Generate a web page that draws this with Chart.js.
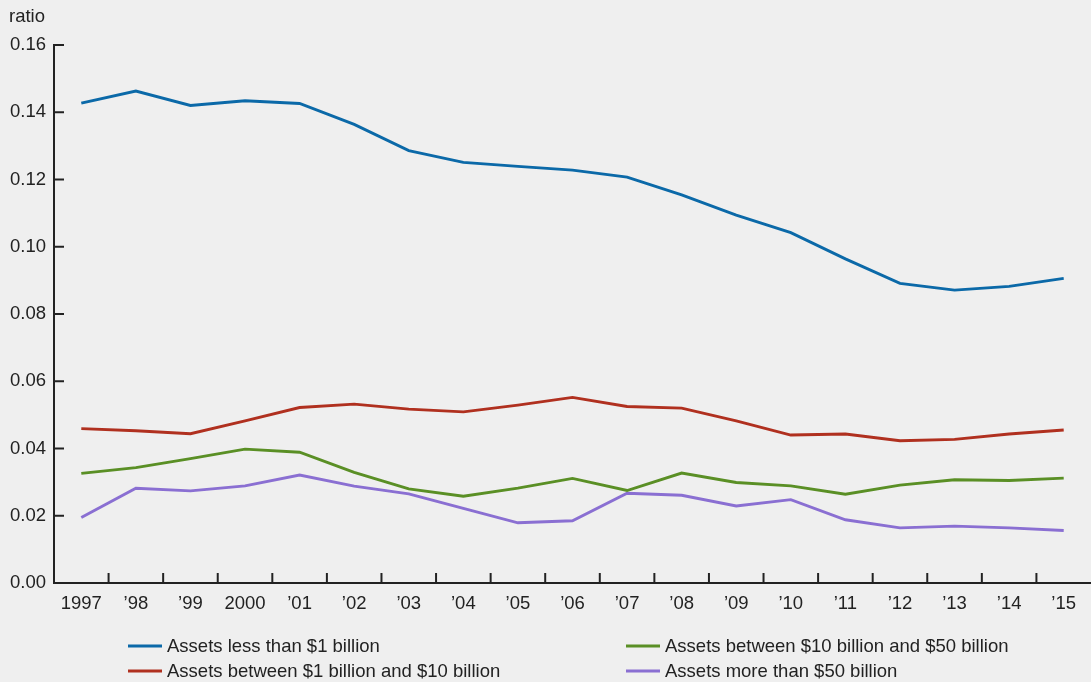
<!DOCTYPE html>
<html>
<head>
<meta charset="utf-8">
<title>Ratio by bank asset size</title>
<script src="https://cdn.jsdelivr.net/npm/chart.js@4/dist/chart.umd.min.js"></script>
<style>
    html, body { margin: 0; padding: 0; background: #efefef; overflow: hidden; }
    #wrap { width: 1091px; height: 682px; position: relative; }
</style>
</head>
<body>
<div id="wrap"><canvas id="chart"></canvas></div>
<script>
// Data
const years = ['1997', '’98', '’99', '2000', '’01', '’02', '’03', '’04', '’05', '’06',
    '’07', '’08', '’09', '’10', '’11', '’12', '’13', '’14', '’15'];

const under1b = [0.1427, 0.1463, 0.1420, 0.1434, 0.1426, 0.1364, 0.1286, 0.1251, 0.1239, 0.1228,
    0.1207, 0.1154, 0.1094, 0.1042, 0.0964, 0.0891, 0.0871, 0.0882, 0.0906];
const from1to10b = [0.0459, 0.0453, 0.0444, 0.0482, 0.0522, 0.0532, 0.0517, 0.0509, 0.0529, 0.0552,
    0.0525, 0.0520, 0.0482, 0.0440, 0.0443, 0.0423, 0.0427, 0.0443, 0.0455];
const from10to50b = [0.0326, 0.0343, 0.0370, 0.0398, 0.0389, 0.0329, 0.0280, 0.0258, 0.0282, 0.0311,
    0.0275, 0.0327, 0.0299, 0.0289, 0.0264, 0.0291, 0.0307, 0.0305, 0.0312];
const over50b = [0.0195, 0.0282, 0.0274, 0.0289, 0.0321, 0.0288, 0.0265, 0.0222, 0.0179, 0.0185,
    0.0267, 0.0261, 0.0229, 0.0248, 0.0188, 0.0164, 0.0169, 0.0164, 0.0156];

const seriesLabels = [
    'Assets less than $1 billion',
    'Assets between $1 billion and $10 billion',
    'Assets between $10 billion and $50 billion',
    'Assets more than $50 billion'
];
const colors = ['#0b69a8', '#b0301f', '#5a8f25', '#8a6fd2'];

const FONT = '"Liberation Sans", Arial, Helvetica, sans-serif';
const FONT_SIZE = 18.5;
const INK = '#222222';

// paints the grey page, the inward tick marks, the unit label and the legend
const decorations = {
    id: 'decorations',
    beforeDraw(chart) {
        const ctx = chart.ctx;
        ctx.save();
        ctx.fillStyle = '#efefef';
        ctx.fillRect(0, 0, chart.width, chart.height);
        ctx.restore();
    },
    afterDraw(chart) {
        const ctx = chart.ctx;
        const x = chart.scales.x;
        const y = chart.scales.y;
        const area = chart.chartArea;
        ctx.save();
        ctx.strokeStyle = INK;
        ctx.lineWidth = 2;

        // y ticks point into the plot
        y.ticks.forEach(t => {
            const py = y.getPixelForValue(t.value);
            ctx.beginPath();
            ctx.moveTo(area.left, py);
            ctx.lineTo(area.left + 10, py);
            ctx.stroke();
        });

        // x ticks sit between the years
        for (let i = 1; i < years.length; i++) {
            const px = (x.getPixelForValue(i - 1) + x.getPixelForValue(i)) / 2;
            ctx.beginPath();
            ctx.moveTo(px, area.bottom);
            ctx.lineTo(px, area.bottom - 10);
            ctx.stroke();
        }

        ctx.fillStyle = INK;
        ctx.font = FONT_SIZE + 'px ' + FONT;
        ctx.textBaseline = 'middle';
        ctx.textAlign = 'left';
        ctx.fillText('ratio', 9, 17);

        // two-column legend under the axis
        const slots = [
            { x: 128, y: 646 }, { x: 128, y: 671 },
            { x: 626, y: 646 }, { x: 626, y: 671 }
        ];
        chart.data.datasets.forEach((ds, i) => {
            const s = slots[i];
            ctx.strokeStyle = ds.borderColor;
            ctx.lineWidth = 2.8;
            ctx.beginPath();
            ctx.moveTo(s.x, s.y);
            ctx.lineTo(s.x + 34, s.y);
            ctx.stroke();
            ctx.fillStyle = INK;
            ctx.fillText(ds.label, s.x + 39, s.y + 1);
        });
        ctx.restore();
    }
};

const datasets = [under1b, from1to10b, from10to50b, over50b].map((vals, i) => ({
    label: seriesLabels[i],
    data: vals,
    borderColor: colors[i],
    backgroundColor: colors[i],
    borderWidth: 2.9,
    pointRadius: 0,
    tension: 0,
    fill: false
}));

new Chart(document.getElementById('chart'), {
    type: 'line',
    data: { labels: years, datasets: datasets },
    options: {
        responsive: true,
        maintainAspectRatio: false,
        animation: false,
        layout: { padding: { top: 45, right: 0, left: 0, bottom: 0 } },
        plugins: {
            legend: { display: false },
            tooltip: { enabled: false }
        },
        scales: {
            x: {
                offset: true,
                grid: { display: false, drawTicks: false },
                border: { display: true, color: INK, width: 2 },
                ticks: {
                    color: INK,
                    font: { family: FONT, size: FONT_SIZE },
                    padding: 10,
                    maxRotation: 0,
                    autoSkip: false
                },
                afterFit(scale) { scale.height = 99; }
            },
            y: {
                min: 0,
                max: 0.16,
                grid: { display: false, drawTicks: false },
                border: { display: true, color: INK, width: 2 },
                ticks: {
                    stepSize: 0.02,
                    color: INK,
                    font: { family: FONT, size: FONT_SIZE },
                    padding: 8,
                    callback: v => v.toFixed(2)
                },
                afterFit(scale) { scale.width = 54; }
            }
        }
    },
    plugins: [decorations]
});
</script>
</body>
</html>
